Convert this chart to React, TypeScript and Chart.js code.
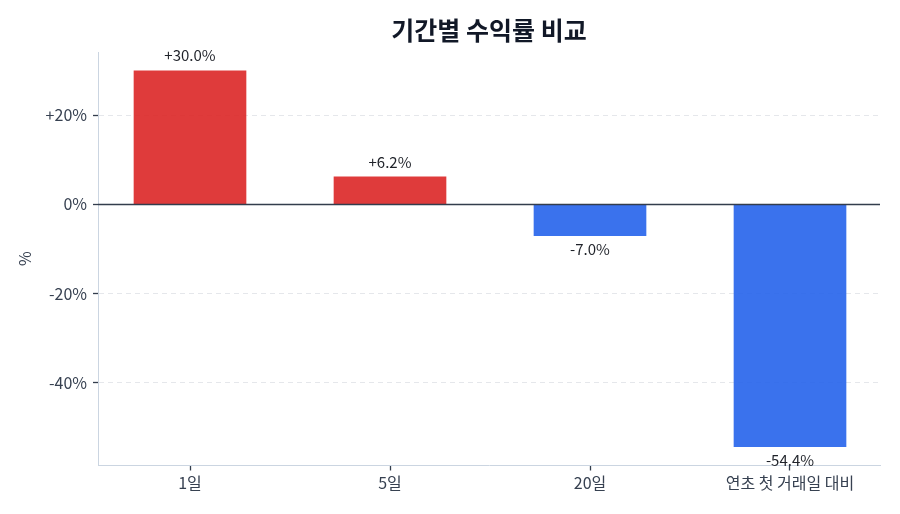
import React, { useEffect, useRef } from "react";
import { Chart, registerables, Plugin } from "chart.js";

Chart.register(...registerables);

const periods = ["1일", "5일", "20일", "연초 첫 거래일 대비"];
const returns = [30.0, 6.2, -7.0, -54.4];
const yTicks = [-40, -20, 0, 20];

const FONT = "'Noto Sans CJK KR', 'Noto Sans', sans-serif";
const RED = "rgba(220, 38, 38, 0.9)";
const BLUE = "rgba(37, 99, 235, 0.9)";

const fmt = (v: number) => (v > 0 ? "+" : "") + v.toFixed(1) + "%";

// 0% 기준선 + 막대 값 라벨
const overlayPlugin: Plugin<"bar"> = {
  id: "overlay",
  afterDatasetsDraw(chart) {
    const { ctx, chartArea, scales } = chart;
    const y0 = scales.y.getPixelForValue(0);
    ctx.save();
    ctx.strokeStyle = "#333d4d";
    ctx.lineWidth = 1.5;
    ctx.beginPath();
    ctx.moveTo(chartArea.left, y0);
    ctx.lineTo(chartArea.right, y0);
    ctx.stroke();

    ctx.font = `15px ${FONT}`;
    ctx.fillStyle = "#1f2229";
    ctx.textAlign = "center";
    ctx.textBaseline = "middle";
    const meta = chart.getDatasetMeta(0);
    meta.data.forEach((el: any, i) => {
      const v = returns[i];
      const y = v >= 0 ? el.y - 15 : el.y + 14;
      ctx.fillText(fmt(v), el.x, y);
    });
    ctx.restore();
  },
};

const ReturnComparisonChart: React.FC = () => {
  const canvasRef = useRef<HTMLCanvasElement | null>(null);
  const chartRef = useRef<Chart | null>(null);

  useEffect(() => {
    if (chartRef.current) chartRef.current.destroy();
    const ctx = canvasRef.current?.getContext("2d");
    if (!ctx) return;

    chartRef.current = new Chart(ctx, {
      type: "bar",
      data: {
        datasets: [
          {
            data: returns.map((v, i) => ({ x: i, y: v })),
            backgroundColor: returns.map((v) => (v >= 0 ? RED : BLUE)),
            borderWidth: 0,
            barThickness: 112,
          },
        ],
      },
      options: {
        animation: false,
        responsive: true,
        maintainAspectRatio: false,
        layout: { padding: { left: 0, right: 20, top: 0, bottom: 0 } },
        plugins: {
          legend: { display: false },
          tooltip: { enabled: false },
          title: {
            display: true,
            text: "기간별 수익률 비교",
            color: "#111827",
            font: { family: FONT, size: 25, weight: "bold" },
            padding: { top: 15, bottom: 7 },
            fullSize: false,
          },
        },
        scales: {
          x: {
            type: "linear",
            min: -0.46,
            max: 3.45,
            offset: false,
            afterBuildTicks: (scale) => {
              scale.ticks = periods.map((_, i) => ({ value: i }));
            },
            afterFit: (scale) => {
              scale.height = 48.5;
            },
            ticks: {
              callback: (value) => periods[Number(value)] ?? "",
              color: "#374151",
              font: { family: FONT, size: 16 },
              padding: 3,
              autoSkip: false,
              maxRotation: 0,
            },
            grid: {
              offset: false,
              drawOnChartArea: false,
              drawTicks: true,
              tickLength: 5,
              tickWidth: 1.3,
              tickColor: "#333d4d",
            },
            border: { color: "#cbd5e1", width: 1 },
          },
          y: {
            type: "linear",
            min: -58.62,
            max: 34.22,
            afterBuildTicks: (scale) => {
              scale.ticks = yTicks.map((v) => ({ value: v }));
            },
            afterFit: (scale) => {
              scale.width = 98;
            },
            title: {
              display: true,
              text: "%",
              color: "#374151",
              font: { family: FONT, size: 16 },
              padding: { top: 15, bottom: 0 },
            },
            ticks: {
              callback: (value) => {
                const v = Number(value);
                return (v > 0 ? "+" : "") + v + "%";
              },
              color: "#374151",
              font: { family: FONT, size: 16 },
              padding: 6,
            },
            grid: {
              color: "#e5e7eb",
              lineWidth: 1,
              tickLength: 5,
              tickWidth: 1.3,
              tickColor: "#333d4d",
              tickBorderDash: [],
            },
            border: { color: "#cbd5e1", width: 1, dash: [5, 4] },
          },
        },
      },
      plugins: [overlayPlugin],
    });

    return () => {
      if (chartRef.current) chartRef.current.destroy();
      chartRef.current = null;
    };
  }, []);

  return (
    <div
      style={{
        position: "fixed",
        left: 0,
        top: 0,
        width: 900,
        height: 514,
        background: "#ffffff",
      }}
    >
      <canvas ref={canvasRef}></canvas>
    </div>
  );
};

export default function App() {
  return <ReturnComparisonChart />;
}
